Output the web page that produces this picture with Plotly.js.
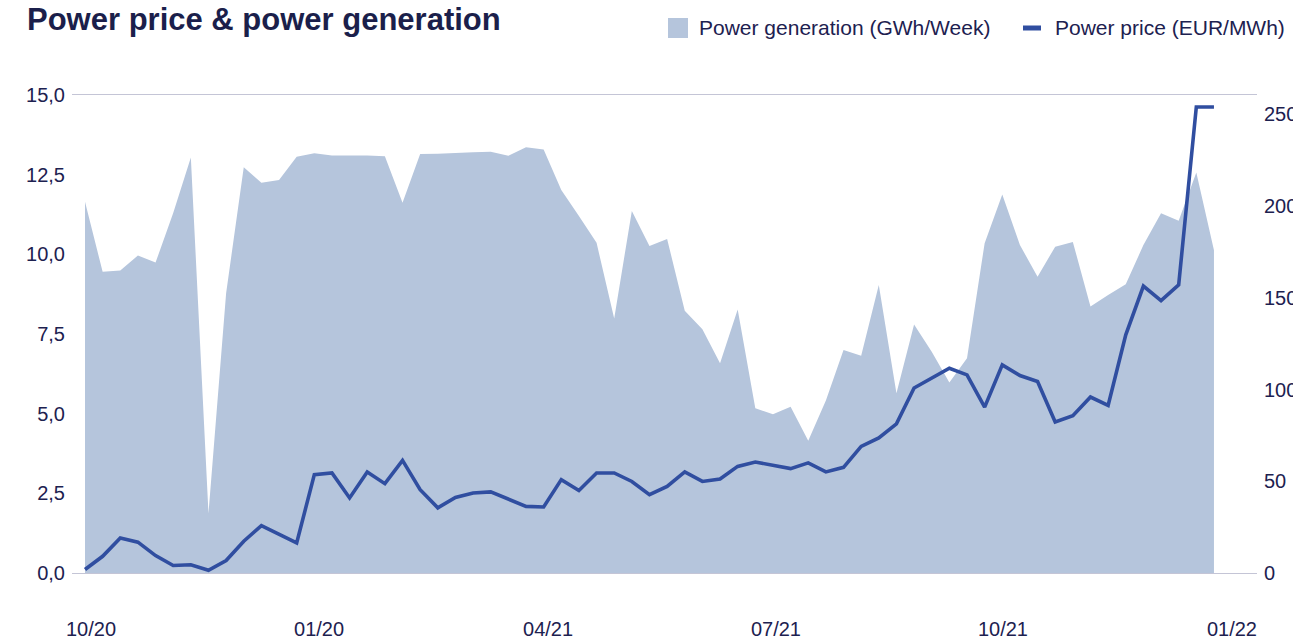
<!DOCTYPE html>
<html>
<head>
<meta charset="utf-8">
<script src="https://cdn.plot.ly/plotly-3.0.1.min.js"></script>
<style>
  html, body { margin: 0; padding: 0; background: #ffffff; }
  #chart { width: 1293px; height: 640px; }
</style>
</head>
<body>
<div id="chart"></div>
<script>
const generation = [
  11.65, 9.45, 9.49, 9.96, 9.74, 11.3, 13.04, 1.87, 8.78, 12.73,
  12.25, 12.33, 13.06, 13.17, 13.10, 13.10, 13.10, 13.08, 11.62, 13.15,
  13.16, 13.18, 13.20, 13.22, 13.09, 13.36, 13.29, 12.02, 11.2, 10.36,
  7.99, 11.36, 10.26, 10.48, 8.23, 7.65, 6.58, 8.27, 5.17, 4.98,
  5.22, 4.15, 5.41, 7.0, 6.82, 9.04, 5.64, 7.8, 6.94, 5.98,
  6.74, 10.35, 11.88, 10.29, 9.30, 10.24, 10.39, 8.36, 8.72, 9.06,
  10.29, 11.29, 11.05, 12.57, 10.13
];
const price = [
  1.9, 9.1, 19.1, 16.8, 9.5, 4.1, 4.5, 1.5, 6.8, 17.3,
  25.8, 20.9, 16.4, 53.6, 54.5, 40.9, 55.0, 48.7, 61.4, 45.4,
  35.5, 41.2, 43.6, 44.2, 40.5, 36.3, 36.0, 50.9, 45.0, 54.5,
  54.5, 49.9, 42.7, 47.2, 55.1, 49.9, 51.2, 58.1, 60.5, 58.7,
  56.9, 60.0, 55.1, 57.6, 69.0, 73.6, 81.3, 100.8, 106.2, 111.6,
  108.0, 90.4, 113.4, 107.6, 104.4, 82.3, 85.7, 95.9, 91.3, 129.8,
  156.4, 148.4, 157.0, 254.0, 254.0
];
const quarterLabels = ['10/20', '01/20', '04/21', '07/21', '10/21', '01/22'];
const quarterWeekPos = [0.34, 13.27, 26.25, 39.17, 52.04, 65.02];
const leftTicks = [0, 2.5, 5, 7.5, 10, 12.5, 15];
const rightTicks = [0, 50, 100, 150, 200, 250];
const seriesNames = ['Power generation (GWh/Week)', 'Power price (EUR/MWh)'];

const weekIndex = generation.map((_, i) => i);

// ---- Styling ----
const NAVY = '#1d2150';
const AREA = '#b5c5dc';
const LINE = '#304ea0';
const AXIS = '#c4c5d6';
const FONT = 'Liberation Sans, Arial, Helvetica, sans-serif';

// plot-area geometry (pixels) for placing the hand-built legend
const W = 1293, H = 640;
const M = { l: 72, r: 36, t: 95, b: 67 };
const pw = W - M.l - M.r, ph = H - M.t - M.b;
const px2x = px => (px - M.l) / pw;
const py2y = py => (H - M.b - py) / ph;

const traces = [
  {
    type: 'scatter',
    x: weekIndex,
    y: generation,
    mode: 'none',
    fill: 'tozeroy',
    fillcolor: AREA,
    name: seriesNames[0],
    yaxis: 'y',
    hoverinfo: 'skip'
  },
  {
    type: 'scatter',
    x: weekIndex,
    y: price,
    mode: 'lines',
    line: { color: LINE, width: 3.6 },
    name: seriesNames[1],
    yaxis: 'y2',
    hoverinfo: 'skip'
  }
];

const layout = {
  width: W,
  height: H,
  margin: M,
  paper_bgcolor: '#ffffff',
  plot_bgcolor: '#ffffff',
  separators: ',.',
  showlegend: false,
  font: { family: FONT, color: NAVY, size: 20 },
  title: {
    text: '<b>Power price & power generation</b>',
    font: { family: FONT, size: 31, color: '#1b1f4b' },
    xref: 'container', x: 27 / W, xanchor: 'left',
    yref: 'container', y: 1 - 19 / H, yanchor: 'middle'
  },
  xaxis: {
    range: [-0.737, 66.44],
    tickmode: 'array',
    tickvals: quarterWeekPos,
    ticktext: quarterLabels,
    showgrid: false,
    zeroline: false,
    showline: true,
    mirror: true,
    linecolor: AXIS,
    linewidth: 1,
    ticks: '',
    ticklabelstandoff: 38,
    tickfont: { family: FONT, size: 20, color: NAVY },
    fixedrange: true
  },
  yaxis: {
    range: [0, 15],
    tickmode: 'array',
    tickvals: leftTicks,
    tickformat: '.1f',
    showgrid: false,
    zeroline: false,
    showline: false,
    ticks: '',
    ticklabelstandoff: 6,
    tickfont: { family: FONT, size: 20, color: NAVY },
    fixedrange: true
  },
  yaxis2: {
    range: [0, 260.5],
    overlaying: 'y',
    side: 'right',
    tickmode: 'array',
    tickvals: rightTicks,
    showgrid: false,
    zeroline: false,
    showline: false,
    ticks: '',
    ticklabelstandoff: 6,
    tickfont: { family: FONT, size: 20, color: NAVY },
    fixedrange: true
  },
  shapes: [
    {
      type: 'rect', xref: 'paper', yref: 'paper',
      x0: px2x(668), x1: px2x(688), y0: py2y(38), y1: py2y(18),
      fillcolor: AREA, line: { width: 0 }
    },
    {
      type: 'line', xref: 'paper', yref: 'paper',
      x0: px2x(1023), x1: px2x(1041), y0: py2y(28), y1: py2y(28),
      line: { color: LINE, width: 5 }
    }
  ],
  annotations: [
    {
      xref: 'paper', yref: 'paper', x: px2x(697), y: py2y(28),
      xanchor: 'left', yanchor: 'middle', showarrow: false,
      text: seriesNames[0], font: { family: FONT, size: 21, color: NAVY }
    },
    {
      xref: 'paper', yref: 'paper', x: px2x(1053), y: py2y(28),
      xanchor: 'left', yanchor: 'middle', showarrow: false,
      text: seriesNames[1], font: { family: FONT, size: 21, color: NAVY }
    }
  ]
};

Plotly.newPlot('chart', traces, layout, { staticPlot: true, displayModeBar: false });
</script>
</body>
</html>
